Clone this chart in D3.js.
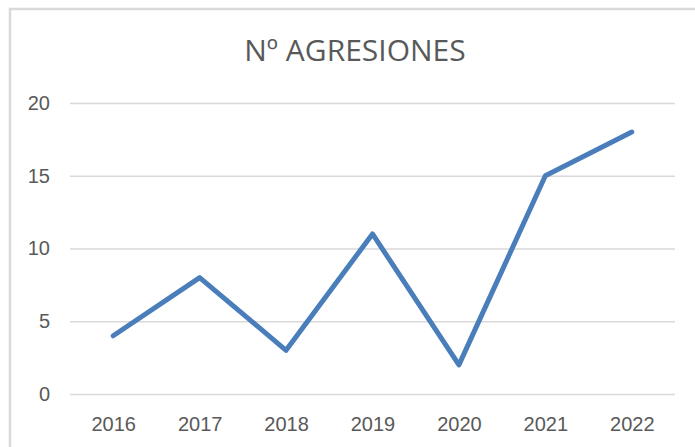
<!DOCTYPE html>
<html>
<head>
<meta charset="utf-8">
<script src="https://d3js.org/d3.v7.min.js"></script>
<style>
  body { margin: 0; background: #fff; }
  svg { display: block; font-family: 'Open Sans', sans-serif; }
</style>
</head>
<body>
<div id="chart"></div>
<script>
const years = ['2016', '2017', '2018', '2019', '2020', '2021', '2022'];
const agresiones = [4, 8, 3, 11, 2, 15, 18];
const yTicks = [0, 5, 10, 15, 20];
const title = 'Nº AGRESIONES';

const width = 695, height = 447;
const margin = {top: 103, right: 20, bottom: 53, left: 70};

const svg = d3.select('#chart').append('svg')
    .attr('width', width)
    .attr('height', height);

// chart border, runs off the right and bottom edge
svg.append('rect')
    .attr('x', 10).attr('y', 9)
    .attr('width', 720).attr('height', 460)
    .attr('fill', 'none')
    .attr('stroke', '#d9d9d9')
    .attr('stroke-width', 2.5);

const x = d3.scalePoint()
    .domain(years)
    .range([margin.left, width - margin.right])
    .padding(0.5);

const y = d3.scaleLinear()
    .domain([0, 20])
    .range([height - margin.bottom, margin.top]);

svg.append('text')
    .attr('x', 355)
    .attr('y', 61)
    .attr('text-anchor', 'middle')
    .attr('fill', '#595959')
    .style('font-size', '30px')
    .text(title);

const yAxis = svg.append('g')
    .attr('transform', `translate(${margin.left},0)`)
    .call(d3.axisLeft(y).tickValues(yTicks).tickSize(-(width - margin.left - margin.right)).tickPadding(20));

yAxis.select('.domain').remove();
yAxis.selectAll('.tick line')
    .attr('stroke', '#d9d9d9')
    .attr('stroke-width', 1.5);
yAxis.selectAll('.tick text')
    .attr('fill', '#595959')
    .style('font-size', '20px');

const xAxis = svg.append('g')
    .attr('transform', `translate(0,${height - margin.bottom})`)
    .call(d3.axisBottom(x).tickSize(0).tickPadding(23));

xAxis.select('.domain').remove();
xAxis.selectAll('.tick text')
    .attr('fill', '#595959')
    .style('font-size', '20px');

const line = d3.line()
    .x((d, i) => x(years[i]))
    .y(d => y(d));

svg.append('path')
    .datum(agresiones)
    .attr('fill', 'none')
    .attr('stroke', '#4a7ebb')
    .attr('stroke-width', 5)
    .attr('stroke-linejoin', 'round')
    .attr('stroke-linecap', 'round')
    .attr('d', line);
</script>
</body>
</html>
